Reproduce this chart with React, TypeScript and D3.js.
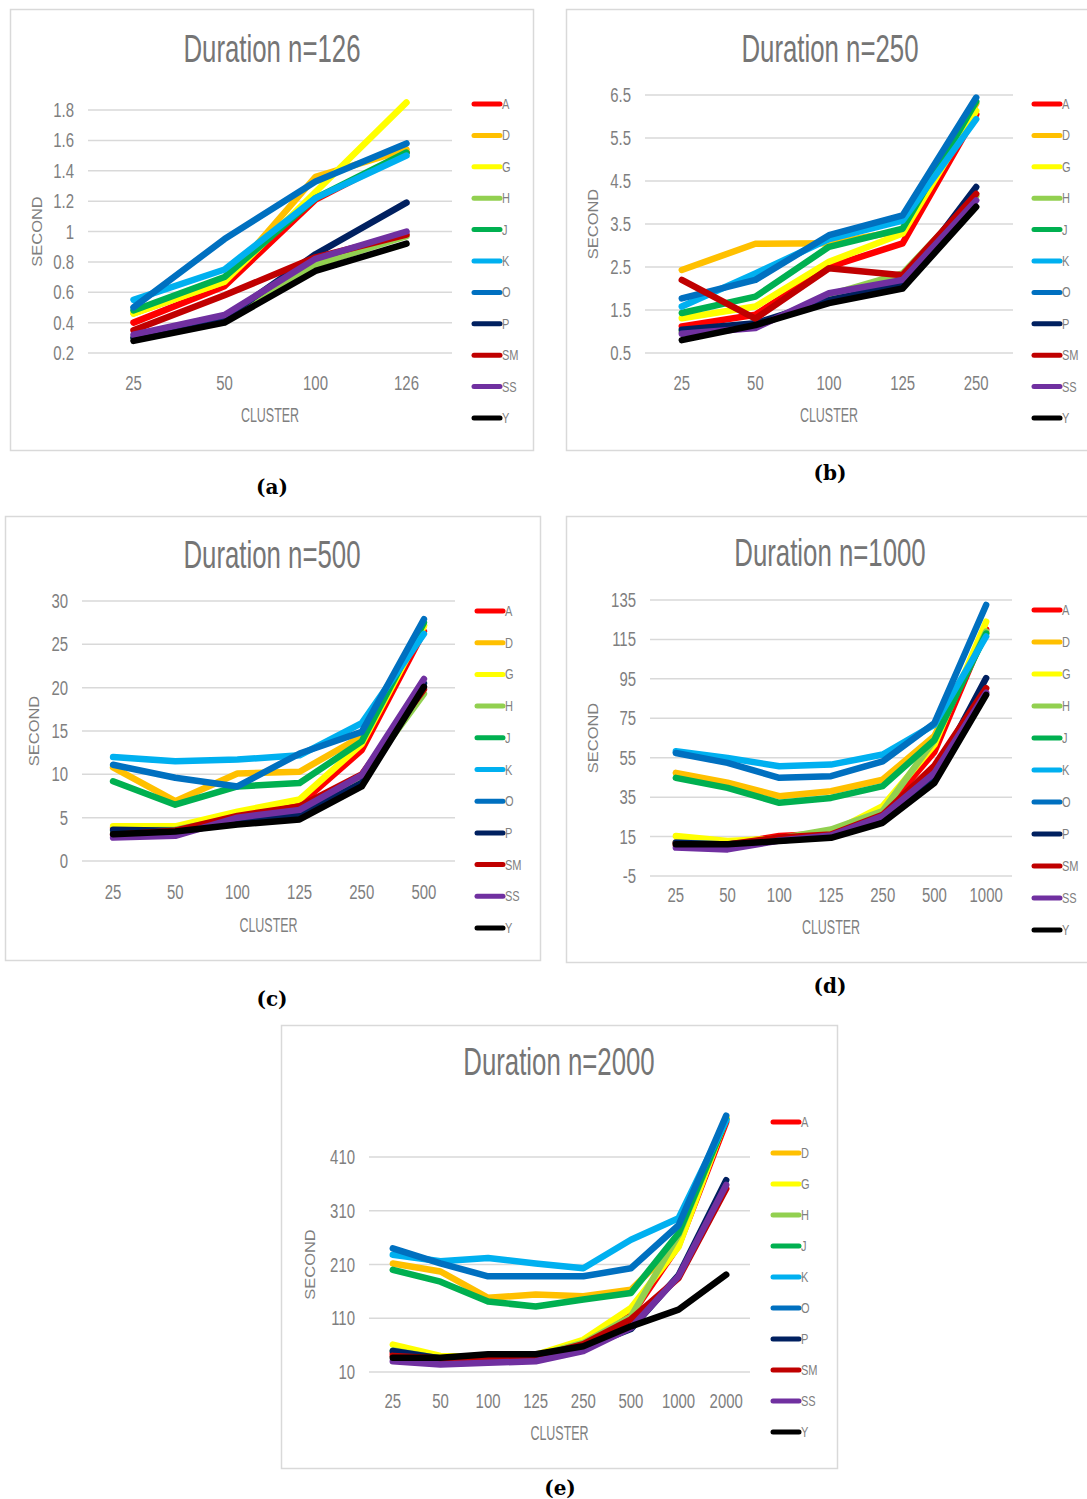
import React, { useRef, useEffect } from "react";
import * as d3 from "d3";

// series shared by all five panels
const seriesNames = ["A", "D", "G", "H", "J", "K", "O", "P", "SM", "SS", "Y"];
const seriesColors = [
  "#FF0000", "#FFC000", "#FFFF00", "#92D050", "#00B050", "#00B0F0",
  "#0070C0", "#002060", "#C00000", "#7030A0", "#000000",
];

// (a) n=126
const clusters126 = ["25", "50", "100", "126"];
const ticks126 = [0.2, 0.4, 0.6, 0.8, 1, 1.2, 1.4, 1.6, 1.8];
const values126: Record<string, number[]> = {
  A: [0.4, 0.64, 1.21, 1.52],
  D: [0.46, 0.67, 1.36, 1.54],
  G: [0.46, 0.67, 1.26, 1.85],
  H: [0.3, 0.43, 0.78, 0.97],
  J: [0.48, 0.7, 1.22, 1.52],
  K: [0.55, 0.75, 1.22, 1.5],
  O: [0.5, 0.95, 1.33, 1.58],
  P: [0.3, 0.43, 0.85, 1.19],
  SM: [0.35, 0.58, 0.83, 0.98],
  SS: [0.32, 0.45, 0.82, 1.0],
  Y: [0.28, 0.4, 0.74, 0.92],
};

// (b) n=250
const clusters250 = ["25", "50", "100", "125", "250"];
const ticks250 = [0.5, 1.5, 2.5, 3.5, 4.5, 5.5, 6.5];
const values250: Record<string, number[]> = {
  A: [1.12, 1.39, 2.5, 3.05, 6.05],
  D: [2.43, 3.04, 3.05, 3.35, 6.3],
  G: [1.31, 1.58, 2.62, 3.28, 6.13],
  H: [1.0, 1.1, 1.85, 2.35, 4.15],
  J: [1.43, 1.81, 2.97, 3.39, 6.35],
  K: [1.58, 2.35, 3.15, 3.58, 5.94],
  O: [1.77, 2.2, 3.24, 3.7, 6.44],
  P: [1.04, 1.19, 1.73, 2.1, 4.36],
  SM: [2.2, 1.3, 2.47, 2.31, 4.2],
  SS: [0.95, 1.08, 1.89, 2.2, 4.05],
  Y: [0.8, 1.15, 1.66, 2.0, 3.9],
};

// (c) n=500
const clusters500 = ["25", "50", "100", "125", "250", "500"];
const ticks500 = [0, 5, 10, 15, 20, 25, 30];
const values500: Record<string, number[]> = {
  A: [3.8, 3.8, 5.4, 6.5, 12.8, 26.5],
  D: [10.8, 6.9, 10.1, 10.3, 14.4, 27.2],
  G: [4.0, 4.0, 5.7, 7.1, 13.5, 27.1],
  H: [3.5, 3.6, 5.0, 5.8, 9.5, 19.3],
  J: [9.2, 6.5, 8.6, 9.0, 13.8, 27.5],
  K: [12.0, 11.5, 11.7, 12.2, 15.9, 26.2],
  O: [11.1, 9.6, 8.6, 12.4, 14.9, 27.9],
  P: [3.6, 3.5, 4.5, 5.3, 9.0, 20.5],
  SM: [3.0, 3.5, 5.2, 6.3, 10.0, 19.8],
  SS: [2.7, 2.9, 5.0, 5.9, 9.9, 21.0],
  Y: [3.1, 3.4, 4.2, 4.8, 8.6, 20.1],
};

// (d) n=1000
const clusters1000 = ["25", "50", "100", "125", "250", "500", "1000"];
const ticks1000 = [-5, 15, 35, 55, 75, 95, 115, 135];
const values1000: Record<string, number[]> = {
  A: [12, 11, 15.3, 16.5, 27, 58, 120],
  D: [47.3, 42.3, 35.5, 38, 43.9, 66, 118],
  G: [15.3, 12.7, 14, 17, 30.4, 61.6, 124],
  H: [12, 11, 14, 18.6, 28, 64, 119],
  J: [44.8, 39.7, 32.1, 34.6, 40.6, 64, 118],
  K: [58.3, 54.9, 50.7, 51.5, 56.6, 71.8, 116.5],
  O: [57.4, 52.4, 44.8, 45.6, 53.2, 72.6, 132.5],
  P: [11.9, 11, 13, 15, 24, 46, 95.4],
  SM: [11, 11, 14.5, 16, 26, 51, 90.3],
  SS: [9.4, 8.5, 13, 15.5, 25.4, 47.3, 88],
  Y: [11.1, 11.1, 12.7, 14.4, 22, 42.2, 86.9],
};

// (e) n=2000
const clusters2000 = ["25", "50", "100", "125", "250", "500", "1000", "2000"];
const ticks2000 = [10, 110, 210, 310, 410];
const values2000: Record<string, number[]> = {
  A: [45, 38, 36, 40, 66, 115, 245, 475],
  D: [212, 197, 148, 154, 151, 163, 250, 482],
  G: [61, 40, 38, 42, 70, 129, 243, 484],
  H: [50, 35, 36, 40, 64, 113, 265, 480],
  J: [200, 178, 141, 132, 145, 157, 268, 480],
  K: [228, 216, 222, 212, 203, 256, 296, 478],
  O: [240, 212, 188, 188, 188, 203, 283, 487],
  P: [49, 35, 35, 38, 55, 90, 190, 367],
  SM: [40, 35, 35, 38, 62, 108, 185, 351],
  SS: [30, 24, 27, 30, 49, 92, 188, 358],
  Y: [36.5, 36.5, 43, 43, 58, 95, 126, 191],
};

// page layout of each panel (pixels)
const panels = [
  {
    title: "Duration n=126", caption: "(a)", clusters: clusters126, ticks: ticks126, values: values126,
    box: [10, 9, 533, 450], titleXY: [272, 62], plotX: [88, 452], plotY: [353, 110],
    xLabelY: 390, clusterY: 422, secondX: 42, legendX: 472, legendY: [104, 31.4], captionXY: [272, 494],
  },
  {
    title: "Duration n=250", caption: "(b)", clusters: clusters250, ticks: ticks250, values: values250,
    box: [566, 9, 1095, 450], titleXY: [830, 62], plotX: [645, 1013], plotY: [353, 95],
    xLabelY: 390, clusterY: 422, secondX: 598, legendX: 1032, legendY: [104, 31.4], captionXY: [830, 480],
  },
  {
    title: "Duration n=500", caption: "(c)", clusters: clusters500, ticks: ticks500, values: values500,
    box: [5, 516, 540, 960], titleXY: [272, 568], plotX: [82, 455], plotY: [861, 601],
    xLabelY: 899, clusterY: 932, secondX: 39, legendX: 475, legendY: [611, 31.7], captionXY: [272, 1006],
  },
  {
    title: "Duration n=1000", caption: "(d)", clusters: clusters1000, ticks: ticks1000, values: values1000,
    box: [566, 516, 1095, 962], titleXY: [830, 566], plotX: [650, 1012], plotY: [876, 600],
    xLabelY: 902, clusterY: 934, secondX: 598, legendX: 1032, legendY: [610, 32],
    captionXY: [830, 993],
  },
  {
    title: "Duration n=2000", caption: "(e)", clusters: clusters2000, ticks: ticks2000, values: values2000,
    box: [281, 1025, 837, 1468], titleXY: [559, 1075], plotX: [369, 750], plotY: [1372, 1157],
    xLabelY: 1408, clusterY: 1440, secondX: 315, legendX: 771, legendY: [1122, 31],
    captionXY: [560, 1495],
  },
];

const FONT = "'Liberation Sans', Arial, sans-serif";

// text is squeezed horizontally in the original figure, so scale each label
function addText(g: any, x: number, y: number, str: string, o: any) {
  return g
    .append("text")
    .attr("transform", `translate(${x},${y}) rotate(${o.rotate || 0}) scale(${o.sx},${o.sy})`)
    .attr("font-family", o.family || FONT)
    .attr("font-size", o.size)
    .attr("font-weight", o.weight || "normal")
    .attr("text-anchor", o.anchor || "middle")
    .attr("fill", o.fill || "#7f7f7f")
    .text(str);
}

const App = () => {
  const ref = useRef<SVGSVGElement>(null);

  useEffect(() => {
    const svg = d3.select(ref.current);
    svg.selectAll("*").remove();
    svg.append("rect").attr("width", 1087).attr("height", 1499).attr("fill", "#fff");

    panels.forEach((p) => {
      const g = svg.append("g");
      const [bx0, by0, bx1, by1] = p.box;
      g.append("rect")
        .attr("x", bx0 + 0.5).attr("y", by0 + 0.5)
        .attr("width", bx1 - bx0).attr("height", by1 - by0)
        .attr("fill", "#fff").attr("stroke", "#d9d9d9").attr("stroke-width", 1.5);

      const x = d3.scalePoint().domain(p.clusters).range(p.plotX).padding(0.5);
      const y = d3.scaleLinear().domain([p.ticks[0], p.ticks[p.ticks.length - 1]]).range(p.plotY);

      // gridlines + y tick labels
      p.ticks.forEach((t) => {
        g.append("line")
          .attr("x1", p.plotX[0]).attr("x2", p.plotX[1])
          .attr("y1", y(t)).attr("y2", y(t))
          .attr("stroke", "#d9d9d9").attr("stroke-width", 1.5);
        addText(g, p.plotX[0] - 14, y(t) + 7, String(t), { size: 17, sx: 0.88, sy: 1.15, anchor: "end" });
      });

      // x tick labels
      p.clusters.forEach((c) => {
        addText(g, x(c)!, p.xLabelY, c, { size: 17, sx: 0.88, sy: 1.15 });
      });

      addText(g, p.titleXY[0], p.titleXY[1], p.title, { size: 30, sx: 0.86, sy: 1.3, fill: "#757575" });
      addText(g, (p.plotX[0] + p.plotX[1]) / 2, p.clusterY, "CLUSTER", { size: 16, sx: 0.78, sy: 1.3 });
      addText(g, p.secondX, (p.plotY[0] + p.plotY[1]) / 2, "SECOND", { size: 15, sx: 1.1, sy: 0.93, rotate: -90 });

      const line = d3
        .line<number>()
        .x((d, i) => x(p.clusters[i])!)
        .y((d) => y(d));

      seriesNames.forEach((s, i) => {
        g.append("path")
          .datum(p.values[s])
          .attr("d", line)
          .attr("fill", "none")
          .attr("stroke", seriesColors[i])
          .attr("stroke-width", 6.5)
          .attr("stroke-linejoin", "round")
          .attr("stroke-linecap", "round");

        const ly = p.legendY[0] + i * p.legendY[1];
        g.append("line")
          .attr("x1", p.legendX + 2).attr("x2", p.legendX + 28)
          .attr("y1", ly).attr("y2", ly)
          .attr("stroke", seriesColors[i]).attr("stroke-width", 5)
          .attr("stroke-linecap", "round");
        addText(g, p.legendX + 30, ly + 5, s, { size: 12, sx: 0.92, sy: 1.2, anchor: "start" });
      });

      addText(svg, p.captionXY[0], p.captionXY[1], p.caption, {
        size: 20, sx: 1, sy: 1, weight: "bold", fill: "#000",
        family: "'DejaVu Serif', 'Liberation Serif', serif",
      });
    });
  }, []);

  return (
    <svg
      ref={ref}
      width={1087}
      height={1499}
      style={{ position: "absolute", left: 0, top: 0 }}
    />
  );
};

export default App;
